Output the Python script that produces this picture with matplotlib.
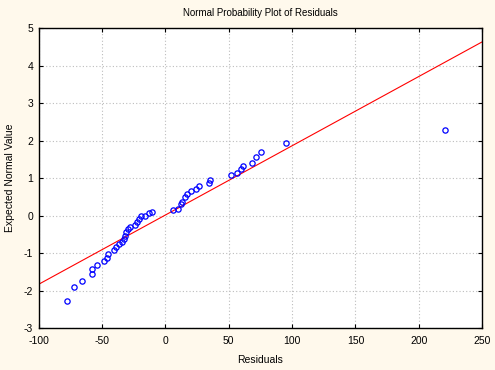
import matplotlib
matplotlib.use("Agg")
import matplotlib.pyplot as plt

# ------------------------------------------------------------
# data
# ------------------------------------------------------------
residuals = [
    -77.4, -71.9, -65.6, -57.7, -57.7, -53.8, -48.2, -46.3, -45.1, -40.3,
    -39.2, -36.6, -34.3, -32.7, -31.7, -30.9, -29.5, -27.7, -23.8, -22.7,
    -20.8, -19.3, -16.1, -13.2, -10.3, 6.2, 10.2, 12.1, 13.3, 15.5,
    16.8, 20.2, 23.9, 26.8, 34.2, 35.4, 51.8, 56.8, 59.9, 61.5,
    68.6, 71.5, 75.5, 95.4, 220.5,
]
expected = [
    -2.28, -1.91, -1.74, -1.57, -1.43, -1.33, -1.21, -1.13, -1.03, -0.93,
    -0.83, -0.76, -0.70, -0.63, -0.55, -0.45, -0.37, -0.30, -0.26, -0.17,
    -0.09, -0.01, 0.00, 0.06, 0.09, 0.14, 0.18, 0.31, 0.37, 0.49,
    0.57, 0.65, 0.70, 0.79, 0.87, 0.95, 1.07, 1.13, 1.23, 1.32,
    1.41, 1.55, 1.69, 1.93, 2.27,
]

# fitted normal line (end points at the axis limits)
line_x = [-100, 250]
line_y = [-1.835, 4.63]

x_ticks = [-100, -50, 0, 50, 100, 150, 200, 250]
y_ticks = [-3, -2, -1, 0, 1, 2, 3, 4, 5]

# ------------------------------------------------------------
# plot
# ------------------------------------------------------------
plt.rcParams["font.family"] = ["Liberation Sans", "DejaVu Sans"]
plt.rcParams["axes.unicode_minus"] = False

bg = "#fff9ec"
fig = plt.figure(figsize=(4.95, 3.70), dpi=100, facecolor=bg)
ax = fig.add_axes([0.078, 0.1135, 0.896, 0.8108])
ax.set_facecolor("white")

ax.plot(line_x, line_y, color="red", linewidth=0.8, zorder=2)
ax.plot(residuals, expected, linestyle="none", marker="o",
        markersize=3.8, markerfacecolor="none", markeredgecolor="blue",
        markeredgewidth=0.9, zorder=3)

ax.set_xlim(-100, 250)
ax.set_ylim(-3, 5)
ax.set_xticks(x_ticks)
ax.set_yticks(y_ticks)
ax.grid(True, color="#bdbdbd", linestyle=(0, (1, 2)), linewidth=0.8)
ax.tick_params(direction="in", length=3, width=0.8, labelsize=7.5,
               top=True, right=True)
ax.tick_params(axis="x", pad=6)
ax.tick_params(axis="y", pad=4)
for s in ax.spines.values():
    s.set_linewidth(1.0)

ax.set_title("Normal Probability Plot of Residuals", fontsize=7, pad=9)
ax.set_xlabel("Residuals", fontsize=7.5, labelpad=6)
ax.set_ylabel("Expected Normal Value", fontsize=7.5, labelpad=6)

fig.savefig("out.png", dpi=100, facecolor=bg)
